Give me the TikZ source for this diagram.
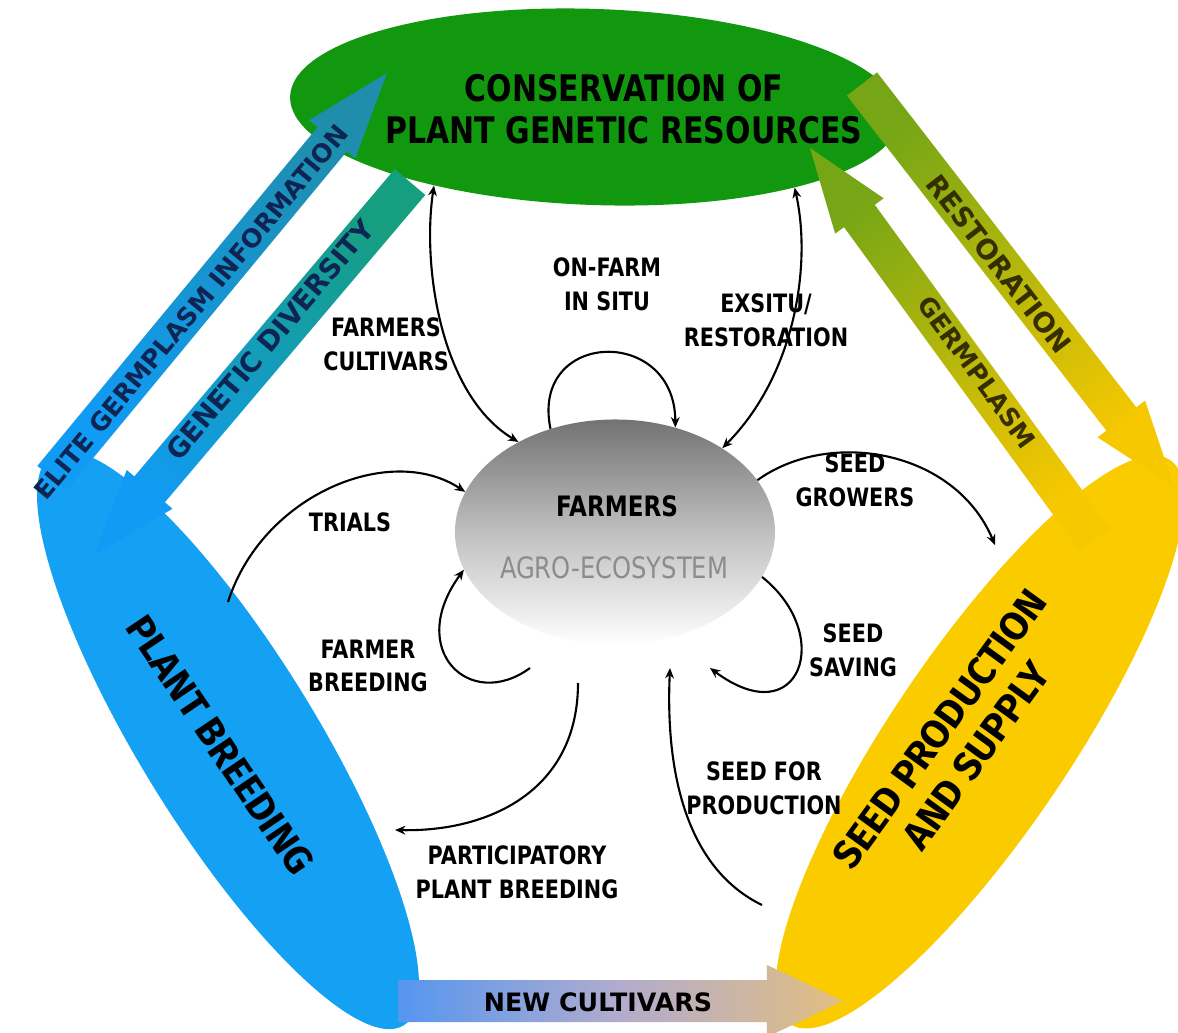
\documentclass[tikz,border=0pt]{standalone}
\usepackage{fontspec}
\setmainfont{DejaVu Sans}
\newfontfamily\narrowfont[FakeStretch=0.82]{DejaVu Sans}
\newfontfamily\fieldfont{Fira Sans}
\usetikzlibrary{arrows.meta,shapes.geometric,calc}
\definecolor{consgreen}{RGB}{18,152,14}
\definecolor{breedblue}{RGB}{20,160,243}
\definecolor{seedyellow}{RGB}{250,204,0}
\definecolor{elitetop}{RGB}{30,142,172}
\definecolor{genetop}{RGB}{22,158,128}
\definecolor{arrowblue}{RGB}{16,155,245}
\definecolor{restgreen}{RGB}{118,166,22}
\definecolor{arrowyellow}{RGB}{246,200,0}
\definecolor{cultblue}{RGB}{85,150,240}
\definecolor{cultmid}{RGB}{178,172,205}
\definecolor{culttan}{RGB}{226,190,128}
\definecolor{navytext}{RGB}{14,36,82}
\definecolor{restdark}{RGB}{52,46,0}

% fat arrow: options, tail, tip, shaft half width, head half width, head length
\newcommand{\fatarrow}[6]{%
  \coordinate (fa-h) at ($(#3)!#6!(#2)$);
  \shade[#1] ($(#2)!#4!90:(#3)$) -- ($(fa-h)!#4!90:(#3)$) -- ($(fa-h)!#5!90:(#3)$)
    -- (#3) -- ($(fa-h)!#5!-90:(#3)$) -- ($(fa-h)!#4!-90:(#3)$)
    -- ($(#2)!#4!-90:(#3)$) -- cycle;}

\begin{document}
\begin{tikzpicture}[x=0.025cm,y=-0.025cm,
   blob/.style={ellipse,inner sep=0pt},
   title/.style={align=center,font=\fieldfont\bfseries\fontsize{28}{32}\selectfont},
   lbl/.style={align=center,font=\narrowfont\bfseries\fontsize{18}{24}\selectfont},
   band/.style={font=\bfseries\fontsize{18}{20}\selectfont},
   >={Stealth[length=2.6mm,width=2.2mm]},
   link/.style={line width=1.5pt,->},
   link2/.style={line width=1.5pt,<->}]
  \useasboundingbox (0,0) rectangle (1178,1033);
  \fill[white] (0,0) rectangle (1178,1033);

  % the three fields
  \node[blob,fill=breedblue,rotate=-58.4,minimum width=16.75cm,minimum height=4.4cm] (breed) at (228,740) {};
  \node[blob,fill=seedyellow,rotate=56,minimum width=17cm,minimum height=4.5cm] (seed) at (980,742) {};
  \node[blob,fill=consgreen,rotate=-2,minimum width=15.25cm,minimum height=4.9cm] (cons) at (595,107) {};

  % wide arrows between the fields
  \coordinate (elite-s) at (52,478);
  \coordinate (elite-t) at (387,73);
  \coordinate (gene-s) at (410,182);
  \coordinate (gene-t) at (94,555);
  \coordinate (rest-s) at (862,84);
  \coordinate (rest-t) at (1174,487);
  \coordinate (germ-s) at (1095,540);
  \coordinate (germ-t) at (810,148);
  \coordinate (new-s) at (398,1001);
  \coordinate (new-t) at (843,1001);
  \fatarrow{top color=elitetop,bottom color=arrowblue,shading angle=-39.6}{elite-s}{elite-t}{0.475cm}{0.75cm}{2.15cm}
  \fatarrow{top color=genetop,bottom color=arrowblue,shading angle=-39.6}{gene-s}{gene-t}{0.5cm}{0.75cm}{2.15cm}
  \fatarrow{top color=restgreen,bottom color=arrowyellow,shading angle=37.7}{rest-s}{rest-t}{0.475cm}{0.75cm}{2.15cm}
  \fatarrow{top color=restgreen,bottom color=arrowyellow,shading angle=36.2}{germ-s}{germ-t}{0.475cm}{0.75cm}{2.1cm}
  \fatarrow{left color=cultblue,right color=culttan,middle color=cultmid}{new-s}{new-t}{0.525cm}{0.9cm}{1.9cm}

  % farmers in the middle
  \node[blob,minimum width=8cm,minimum height=5.625cm,top color=black!55,bottom color=white,middle color=black!25] (farm) at (615,532) {};
  \node[font=\narrowfont\bfseries\fontsize{20}{22}\selectfont] (farm-name) at (617,506) {FARMERS};
  \node[font=\narrowfont\fontsize{21}{23}\selectfont,text=black!45] (farm-sys) at (614,568) {AGRO-ECOSYSTEM};

  % loose ends of the thin arrows
  \coordinate (grow-end) at (995,545);
  \coordinate (trial-start) at (228,602);
  \coordinate (fb-start) at (530,668);
  \coordinate (ppb-start) at (578,683);
  \coordinate (ppb-end) at (395,830);
  \coordinate (ss-end) at (710,668);
  \coordinate (sfp-start) at (762,905);
  \coordinate (sfp-end) at (670,668);

  \draw[link2] (cons.208) .. controls (422,265) and (440,395) .. (farm.137);
  \draw[link] (farm.122) .. controls (530,330) and (675,325) .. (farm.60);
  \draw[link2] (cons.340) .. controls (812,265) and (795,375) .. (farm.38);
  \draw[link] (farm.20) .. controls (830,428) and (955,450) .. (grow-end);
  \draw[link] (trial-start) .. controls (262,495) and (390,442) .. (farm.165);
  \draw[link] (fb-start) .. controls (470,712) and (405,650) .. (farm.194);
  \draw[link] (ppb-start) .. controls (578,790) and (490,832) .. (ppb-end);
  \draw[link] (farm.343) .. controls (835,635) and (800,735) .. (ss-end);
  \draw[link] (sfp-start) .. controls (690,870) and (665,780) .. (sfp-end);

  \node[lbl] (l-cult) at (386,344) {FARMERS\\CULTIVARS};
  \node[lbl] (l-insitu) at (607,284) {ON-FARM\\IN SITU};
  \node[lbl] (l-exsitu) at (766,320) {EXSITU/\\RESTORATION};
  \node[lbl] (l-grow) at (855,480) {SEED\\GROWERS};
  \node[lbl] (l-trial) at (350,522) {TRIALS};
  \node[lbl] (l-fbreed) at (368,666) {FARMER\\BREEDING};
  \node[lbl] (l-save) at (853,650) {SEED\\SAVING};
  \node[lbl] (l-sfp) at (764,788) {SEED FOR\\PRODUCTION};
  \node[lbl] (l-ppb) at (517,872) {PARTICIPATORY\\PLANT BREEDING};

  % field titles
  \node[align=center,font=\narrowfont\bfseries\fontsize{26}{30}\selectfont] (cons-lbl) at (624,109) {CONSERVATION OF\\PLANT GENETIC RESOURCES};
  \node[title,rotate=-56] (breed-lbl) at (220,745) {PLANT BREEDING};
  \node[title,rotate=54] (seed-lbl) at (958,742) {SEED PRODUCTION\\AND SUPPLY};

  \node[band,text=navytext,rotate=50.4] (elite-lbl) at (191,312) {ELITE GERMPLASM INFORMATION};
  \node[band,text=navytext,rotate=49.7,font=\bfseries\fontsize{19.5}{21}\selectfont] (gene-lbl) at (270,340) {GENETIC DIVERSITY};
  \node[band,text=restdark,rotate=-52.3,font=\bfseries\fontsize{19.5}{21}\selectfont] (rest-lbl) at (999,264) {RESTORATION};
  \node[band,text=restdark,rotate=-54] (germ-lbl) at (977,372) {GERMPLASM};
  \node[band] (new-lbl) at (598,1002) {NEW CULTIVARS};
\end{tikzpicture}
\end{document}
